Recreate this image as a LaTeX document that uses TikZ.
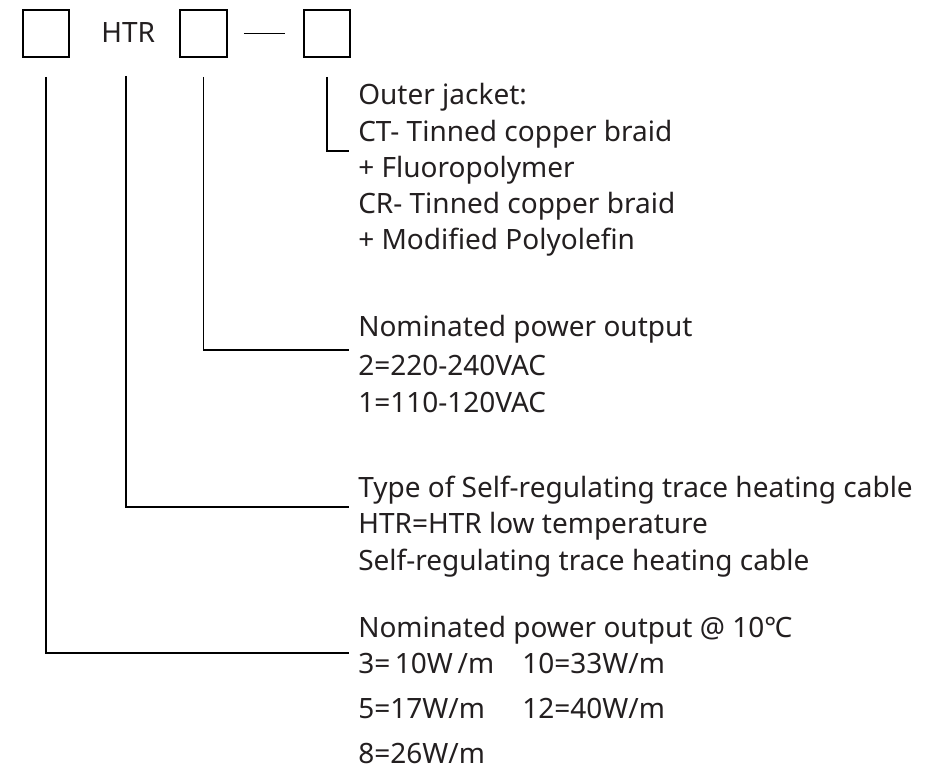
\documentclass[tikz,border=0pt]{standalone}
\usepackage{fontspec}
\setmainfont{Noto Sans}
\usetikzlibrary{calc}
\definecolor{txt}{HTML}{231F20}
\begin{document}
\begin{tikzpicture}[x=0.75pt,y=-0.75pt,
  codebox/.style={draw=black,line width=1.4pt,minimum width=35pt,minimum height=35pt,inner sep=0pt},
  lbl/.style={anchor=base west,inner sep=0pt,text=txt,font=\fontsize{21pt}{25pt}\selectfont},
  lead/.style={draw=black,line width=1.3pt}]
\useasboundingbox (0,0) rectangle (932,777);
% top code
\node[codebox] (b1) at (46,33.5) {};
\node[lbl] (htr) at (101,43) {HTR};
\node[codebox] (b2) at (203.5,33.5) {};
\node[codebox] (b3) at (327,33.5) {};
\draw[lead] ($(b2.east)+(16,0)$) -- ($(b3.west)+(-18,0)$);
% outer jacket
\node[lbl] (oj1) at (358,105) {Outer jacket:};
\node[lbl] (oj2) at (358,142) {CT- Tinned copper braid};
\node[lbl] (oj3) at (358,178) {+ Fluoropolymer};
\node[lbl] (oj4) at (358,214) {CR- Tinned copper braid};
\node[lbl] (oj5) at (358,250) {+ Modified Polyolefin};
\coordinate (e3) at (349,151);
\draw[lead] ($(b3.south)+(0,19)$) |- (e3);
% power output
\node[lbl] (np1) at (358,337) {Nominated power output};
\node[lbl] (np2) at (358,375) {2=220-240VAC};
\node[lbl] (np3) at (358,412) {1=110-120VAC};
\coordinate (e2) at (349,350);
\draw[lead] ($(b2.south)+(0,19)$) |- (e2);
% type
\node[lbl] (ty1) at (358,497) {Type of Self-regulating trace heating cable};
\node[lbl] (ty2) at (358,533) {HTR=HTR low temperature};
\node[lbl] (ty3) at (358,570) {Self-regulating trace heating cable};
\coordinate (eh) at (349,507);
\coordinate (sh) at (126,76);
\draw[lead] (sh) |- (eh);
% power at 10C
\node[lbl] (pw1) at (358,637) {Nominated power output @ 10℃};
\node[lbl] (pw2) at (358,673) {3=\,10W\,/m};
\node[lbl] (pw3) at (522,673) {10=33W/m};
\node[lbl] (pw4) at (358,718) {5=17W/m};
\node[lbl] (pw5) at (522,718) {12=40W/m};
\node[lbl] (pw6) at (358,763) {8=26W/m};
\coordinate (e1) at (349,653);
\draw[lead] ($(b1.south)+(0,19)$) |- (e1);
\end{tikzpicture}
\end{document}
